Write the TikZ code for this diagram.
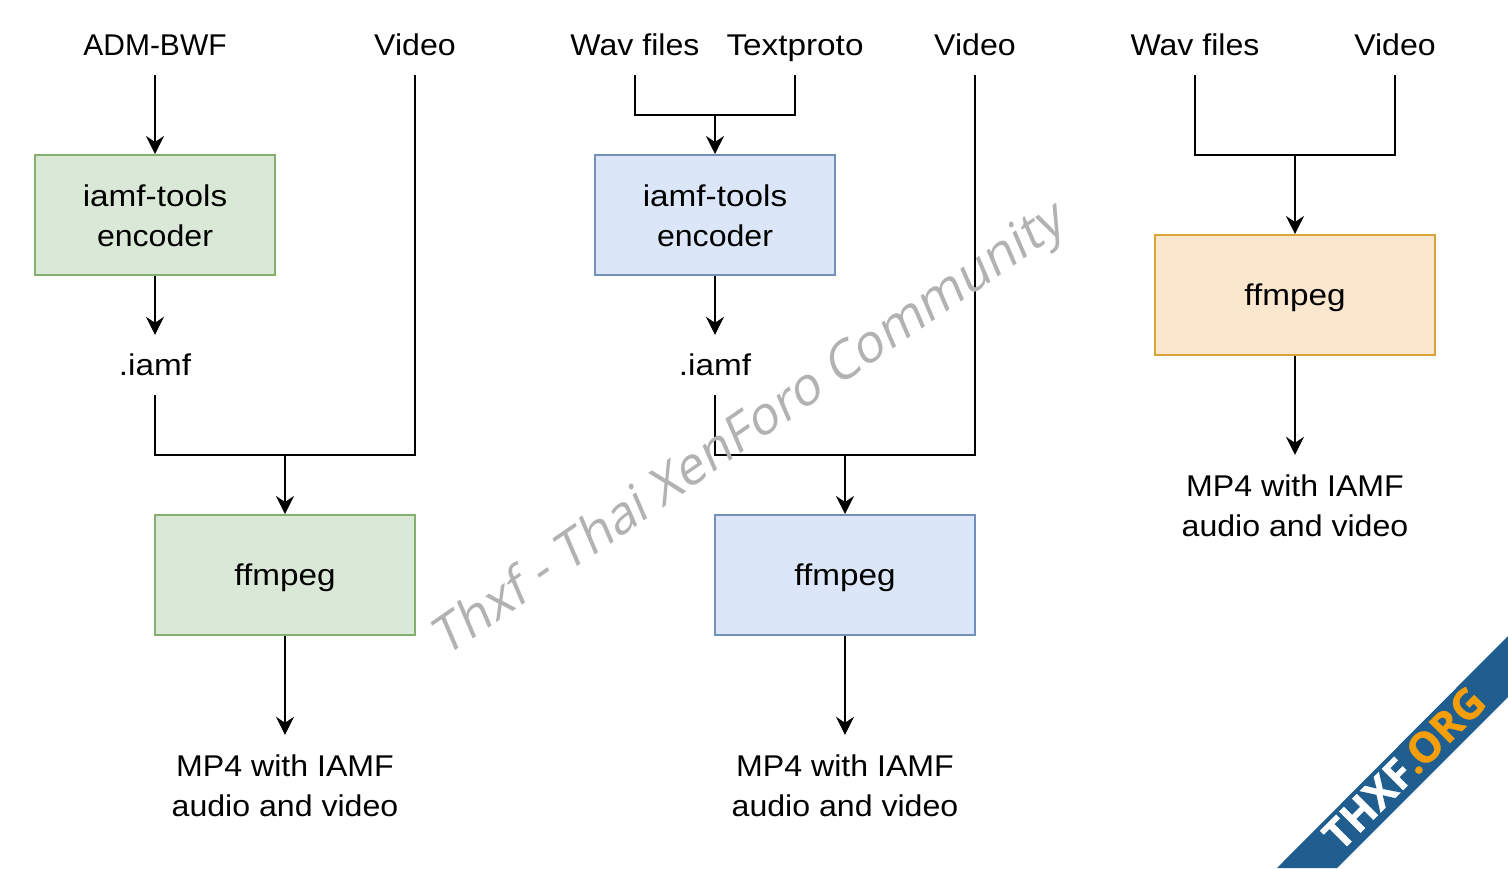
\documentclass[tikz,border=0pt]{standalone}
\usepackage{fontspec}
\setmainfont[FakeStretch=1.07]{Liberation Sans}
\newfontfamily\plainfont{Liberation Sans}
\newfontfamily\widefont[FakeStretch=1.11]{Liberation Sans}
\newfontfamily\wmfont[FakeSlant=0.2]{Open Sans}
\newfontfamily\bannerfont[BoldFeatures={FakeBold=0.8}]{Open Sans}
\usetikzlibrary{arrows.meta}
\definecolor{gfill}{HTML}{DAE8D7}
\definecolor{gline}{HTML}{86AF6E}
\definecolor{bfill}{HTML}{DCE6F9}
\definecolor{bline}{HTML}{7390BC}
\definecolor{ofill}{HTML}{FBE6CE}
\definecolor{oline}{HTML}{D6A53A}
\definecolor{bannerblue}{HTML}{1F5E8E}
\definecolor{bannerorange}{HTML}{F59E0B}
\newcommand\linestrut{\rule[-7pt]{0pt}{35pt}}
\newcommand\topstrut{\rule{0pt}{29pt}}
\tikzset{
  x=1pt,y=-1pt,
  base/.style={font=\fontsize{30}{40}\selectfont,align=center,text=black,inner sep=0pt,
    execute at begin node=\linestrut,execute at end node=\linestrut},
  label/.style={base,minimum width=120pt,minimum height=60pt},
  twoline/.style={base,minimum width=240pt,minimum height=100pt},
  box/.style={base,draw,line width=2pt},
  greenbox/.style={box,draw=gline,fill=gfill},
  bluebox/.style={box,draw=bline,fill=bfill},
  orangebox/.style={box,draw=oline,fill=ofill},
  conn/.style={draw=black,line width=2pt},
  arrow/.style={conn,-{Stealth[length=18pt,width=18pt,inset=6pt]}}
}
\begin{document}
\begin{tikzpicture}
\useasboundingbox (0,0) rectangle (1508,868);
\fill[white] (0,0) rectangle (1508,868);

% left column
\node[label] (admbwf) at (155,45) {\plainfont ADM-BWF};
\node[label] (videoa) at (415,45) {Video};
\node[greenbox,minimum width=240pt,minimum height=120pt] (enca) at (155,215) {\topstrut\widefont iamf-tools\\encoder};
\node[label] (iamfa) at (155,365) {\widefont .iamf};
\node[greenbox,minimum width=260pt,minimum height=120pt] (ffa) at (285,575) {\widefont ffmpeg};
\node[twoline] (mpa) at (285,785) {\topstrut MP4 with IAMF\\audio and video};
\coordinate (ja) at (285,455);
\draw[arrow] (admbwf.south) -- (enca.north);
\draw[arrow] (enca.south) -- (iamfa.north);
\draw[conn] (iamfa.south) |- (ja);
\draw[conn] (videoa.south) |- (ja);
\draw[arrow] (ja) -- (ffa.north);
\draw[arrow] (ffa.south) -- (mpa.north);

% middle column
\node[label] (wavb) at (635,45) {Wav files};
\node[label] (textb) at (795,45) {\widefont Textproto};
\node[label] (videob) at (975,45) {Video};
\node[bluebox,minimum width=240pt,minimum height=120pt] (encb) at (715,215) {\topstrut\widefont iamf-tools\\encoder};
\node[label] (iamfb) at (715,365) {\widefont .iamf};
\node[bluebox,minimum width=260pt,minimum height=120pt] (ffb) at (845,575) {\widefont ffmpeg};
\node[twoline] (mpb) at (845,785) {\topstrut MP4 with IAMF\\audio and video};
\coordinate (jb) at (715,115);
\coordinate (jc) at (845,455);
\draw[conn] (wavb.south) |- (jb);
\draw[conn] (textb.south) |- (jb);
\draw[arrow] (jb) -- (encb.north);
\draw[arrow] (encb.south) -- (iamfb.north);
\draw[conn] (iamfb.south) |- (jc);
\draw[conn] (videob.south) |- (jc);
\draw[arrow] (jc) -- (ffb.north);
\draw[arrow] (ffb.south) -- (mpb.north);

% right column
\node[label] (wavc) at (1195,45) {Wav files};
\node[label] (videoc) at (1395,45) {Video};
\node[orangebox,minimum width=280pt,minimum height=120pt] (ffc) at (1295,295) {\widefont ffmpeg};
\node[twoline] (mpc) at (1295,505) {\topstrut MP4 with IAMF\\audio and video};
\coordinate (jd) at (1295,155);
\draw[conn] (wavc.south) |- (jd);
\draw[conn] (videoc.south) |- (jd);
\draw[arrow] (jd) -- (ffc.north);
\draw[arrow] (ffc.south) -- (mpc.north);

% watermark
\node[rotate=34.6,inner sep=0pt,text=black!30,font=\wmfont\fontsize{51.5}{60}\selectfont] (wm) at (749,432) {Thxf - Thai XenForo Community};

% corner banner
\fill[bannerblue] (1508,636) -- (1277,868) -- (1337,868) -- (1508,697) -- cycle;
\node[rotate=45,inner sep=0pt,font=\bannerfont\bfseries\fontsize{42}{50}\selectfont] (banner) at (1404,768) {\textcolor{white}{THXF}\textcolor{bannerorange}{.ORG}};
\end{tikzpicture}
\end{document}
